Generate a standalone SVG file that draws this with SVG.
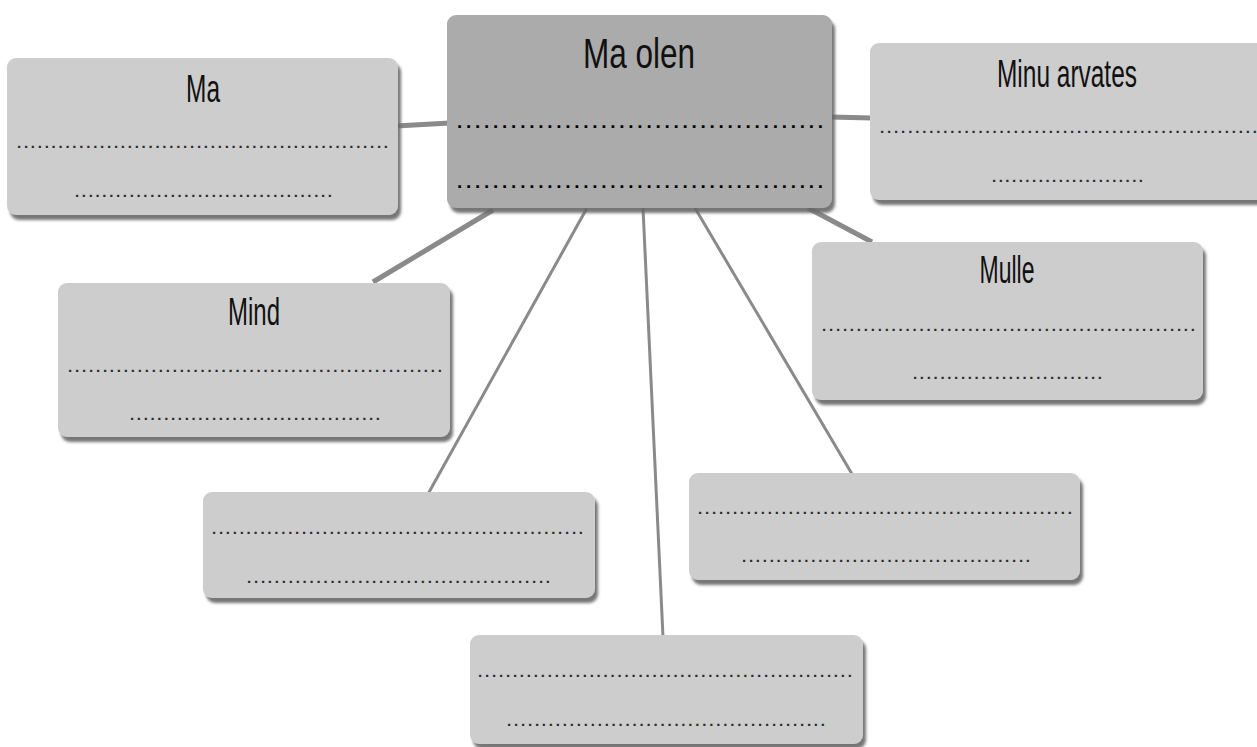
<svg xmlns="http://www.w3.org/2000/svg" width="1257" height="747" viewBox="0 0 1257 747">
<defs>
<filter id="sh" x="-5%" y="-10%" width="115%" height="130%">
<feDropShadow dx="3" dy="5" stdDeviation="1.8" flood-color="#666666" flood-opacity="0.9"/>
</filter>
<style>
.box{fill:#cdcdcd;filter:url(#sh)}
.main{fill:#ababab;filter:url(#sh)}
.ttl{font-family:"Liberation Sans",Arial,sans-serif;font-size:38px;fill:#111;text-anchor:middle}
.dots{font-family:"Liberation Sans",Arial,sans-serif;font-size:15px;font-weight:bold;fill:#2a2a2a}
.bdots{font-family:"Liberation Sans",Arial,sans-serif;font-size:19px;font-weight:bold;fill:#000}
.thick{stroke:#8a8a8a;stroke-width:5;fill:none}
.thin{stroke:#8a8a8a;stroke-width:3;fill:none}
</style>
</defs>
<rect width="1257" height="747" fill="#ffffff"/>
<g id="connectors">
<line class="thick" x1="396" y1="126" x2="450" y2="123"/>
<line class="thick" x1="830" y1="117" x2="872" y2="118"/>
<line class="thick" x1="493" y1="210" x2="373" y2="282"/>
<line class="thick" x1="808" y1="208" x2="872" y2="242"/>
<line class="thin" x1="587" y1="208" x2="428" y2="494"/>
<line class="thin" x1="643" y1="208" x2="663" y2="637"/>
<line class="thin" x1="695" y1="208" x2="852" y2="474"/>
</g>
<g id="node-ma">
<rect class="box" x="7" y="58" width="391" height="157" rx="9"/>
<text class="ttl" x="203" y="102" textLength="34" lengthAdjust="spacingAndGlyphs">Ma</text>
<text class="dots" x="17" y="148" textLength="371" lengthAdjust="spacing">......................................................</text>
<text class="dots" x="75" y="197" textLength="257" lengthAdjust="spacing">......................................</text>
</g>
<g id="node-center">
<rect class="main" x="447" y="15" width="385" height="193" rx="9"/>
<text class="ttl" x="639" y="68" textLength="112" lengthAdjust="spacingAndGlyphs" style="font-size:42px">Ma olen</text>
<text class="bdots" x="457" y="128" textLength="366" lengthAdjust="spacing">.........................................</text>
<text class="bdots" x="457" y="188" textLength="366" lengthAdjust="spacing">.........................................</text>
</g>
<g id="node-minu">
<rect class="box" x="870" y="43" width="400" height="157" rx="9"/>
<text class="ttl" x="1067" y="87" textLength="140" lengthAdjust="spacingAndGlyphs">Minu arvates</text>
<text class="dots" x="880" y="133" textLength="377" lengthAdjust="spacing">......................................................</text>
<text class="dots" x="992" y="182" textLength="151" lengthAdjust="spacing">.......................</text>
</g>
<g id="node-mulle">
<rect class="box" x="812" y="242" width="391" height="158" rx="9"/>
<text class="ttl" x="1007" y="283" textLength="55" lengthAdjust="spacingAndGlyphs">Mulle</text>
<text class="dots" x="822" y="331" textLength="373" lengthAdjust="spacing">......................................................</text>
<text class="dots" x="913" y="379" textLength="189" lengthAdjust="spacing">............................</text>
</g>
<g id="node-mind">
<rect class="box" x="58" y="283" width="392" height="154" rx="9"/>
<text class="ttl" x="254" y="325" textLength="52" lengthAdjust="spacingAndGlyphs">Mind</text>
<text class="dots" x="68" y="372" textLength="374" lengthAdjust="spacing">......................................................</text>
<text class="dots" x="130" y="420" textLength="250" lengthAdjust="spacing">.....................................</text>
</g>
<g id="node-bottom-left">
<rect class="box" x="203" y="492" width="392" height="106" rx="9"/>
<text class="dots" x="212" y="534" textLength="371" lengthAdjust="spacing">......................................................</text>
<text class="dots" x="247" y="583" textLength="303" lengthAdjust="spacing">............................................</text>
</g>
<g id="node-bottom-right">
<rect class="box" x="689" y="473" width="391" height="107" rx="9"/>
<text class="dots" x="698" y="514" textLength="374" lengthAdjust="spacing">......................................................</text>
<text class="dots" x="742" y="562" textLength="288" lengthAdjust="spacing">..........................................</text>
</g>
<g id="node-bottom">
<rect class="box" x="470" y="635" width="393" height="109" rx="9"/>
<text class="dots" x="478" y="677" textLength="374" lengthAdjust="spacing">......................................................</text>
<text class="dots" x="507" y="726" textLength="318" lengthAdjust="spacing">..............................................</text>
</g>
</svg>
